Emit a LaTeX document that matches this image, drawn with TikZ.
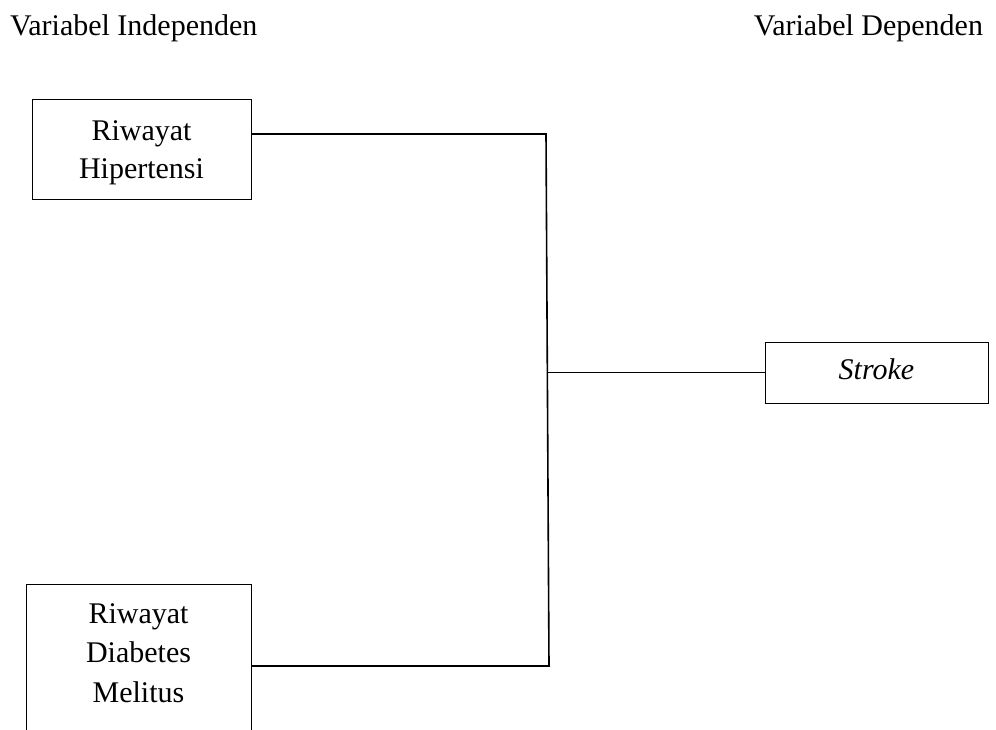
\documentclass[tikz,border=0pt]{standalone}
\usepackage{fontspec}
\setmainfont{Liberation Serif}
\begin{document}
\begin{tikzpicture}[x=1pt,y=-1pt,
  every node/.style={inner sep=0pt, outer sep=0pt},
  varbox/.style={draw=black, line width=0.9pt, align=center,
    font=\fontsize{30}{38}\selectfont},
  title/.style={font=\fontsize{30}{36}\selectfont},
  conn/.style={draw=black, line width=1.6pt}]
\useasboundingbox (0,0) rectangle (996,729);
\clip (0,0) rectangle (996,729);
% titles
\node[title, anchor=base west] (indep) at (10,35) {Variabel Independen};
\node[title, anchor=base east] (dep) at (983,35) {Variabel Dependen};
% boxes
\node[varbox, minimum width=219, minimum height=100] (hip) at (141.5,149)
  {\rule{0pt}{30pt}Riwayat\\Hipertensi\rule[-10pt]{0pt}{10pt}};
\node[varbox, minimum width=225, minimum height=161,
  font=\fontsize{30}{39.5}\selectfont] (dm) at (138.5,664.5)
  {\rule{0pt}{30pt}Riwayat\\Diabetes\\Melitus\rule[-34pt]{0pt}{34pt}};
\node[varbox, minimum width=223, minimum height=61, text height=20pt, text depth=7pt]
  (stroke) at (876.5,372.5) {\textit{Stroke}};
% connectors
\coordinate (t) at (546,134);
\coordinate (b) at (549,666);
\coordinate (j) at (547.5,372.5);
\draw[conn] (hip.east |- t) -- (t) -- (b) -- (dm.east |- b);
\draw[conn] (j) -- (stroke.west);
\end{tikzpicture}
\end{document}
